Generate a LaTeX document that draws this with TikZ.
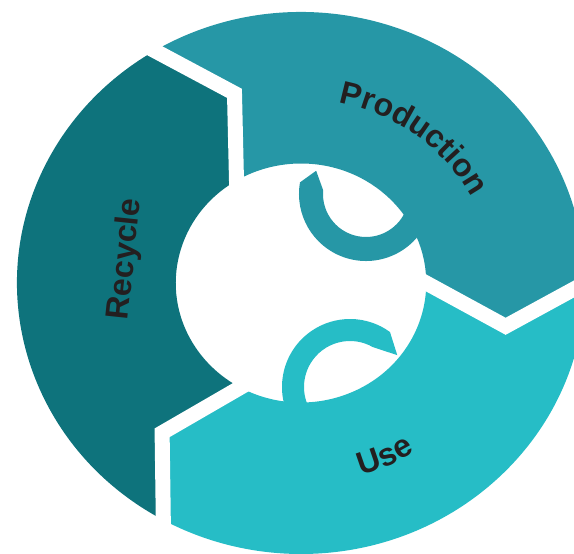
\documentclass[tikz,border=0pt]{standalone}
\usepackage{fontspec}
\setmainfont{Liberation Sans}
\usepackage{xcolor}
\usepackage{tikz}
\usetikzlibrary{calc,decorations.text}

\definecolor{recyclecol}{HTML}{0E737C}
\definecolor{prodcol}{HTML}{2697A6}
\definecolor{usecol}{HTML}{26BDC6}
\definecolor{labelcol}{HTML}{231F20}

\newcommand{\ringfont}{\fontsize{32}{36}\selectfont\bfseries}

\begin{document}
\begin{tikzpicture}[x=1pt, y=1pt]
  \useasboundingbox (-301,-271) rectangle (273,283);

  \begin{scope}[xscale=1.048]
    % Ring segments (outer 271, inner 119.5, tips at 200)
    \fill[recyclecol] (241:271) arc[start angle=241, end angle=121, radius=271]
      -- (108.5:200) -- (121:119.5) arc[start angle=121, end angle=241, radius=119.5]
      -- (228.5:200) -- cycle;
    \fill[prodcol] (121:271) arc[start angle=121, end angle=0, radius=271]
      -- (-12.5:200) -- (0:119.5) arc[start angle=0, end angle=121, radius=119.5]
      -- (108.5:200) -- cycle;
    \fill[usecol] (0:271) arc[start angle=0, end angle=-119, radius=271]
      -- (-131.5:200) -- (-119:119.5) arc[start angle=-119, end angle=0, radius=119.5]
      -- (-12.5:200) -- cycle;

    % Gaps between the segments
    \foreach \a in {121, 0, 241} {
      \draw[white, line width=15pt, line join=miter]
        ($(\a-12.5:200)!1.2!(\a:271)$) -- (\a-12.5:200)
        -- ($(\a-12.5:200)!1.2!(\a:119.5)$);
    }

    % Curved labels
    \path[decorate, decoration={text along path, text align=center,
        text color=labelcol, text={|\ringfont|Production}}]
      (93:184) arc[start angle=93, end angle=13, radius=184];
    \path[decorate, decoration={text along path, text align=center,
        text color=labelcol, text={|\ringfont|Use}}]
      (-100:201) arc[start angle=-100, end angle=-30, radius=201];
  \end{scope}

  % Curled arrows in the hole
  \begin{scope}[shift={(65,89)}]
    \fill[prodcol] (-20:67) arc[start angle=-20, end angle=-190, radius=67]
      -- (-205:55) -- (-185:43) arc[start angle=-185, end angle=-20, radius=43]
      -- cycle;
  \end{scope}
  \begin{scope}[shift={(49,-104)}]
    \fill[usecol] (215:68) arc[start angle=215, end angle=54, radius=68]
      -- (34:57) -- (60:46) arc[start angle=60, end angle=215, radius=46]
      -- cycle;
  \end{scope}

  \node[rotate=84, text=labelcol, font=\ringfont] (recycle) at (-175,24) {Recycle};
\end{tikzpicture}
\end{document}
